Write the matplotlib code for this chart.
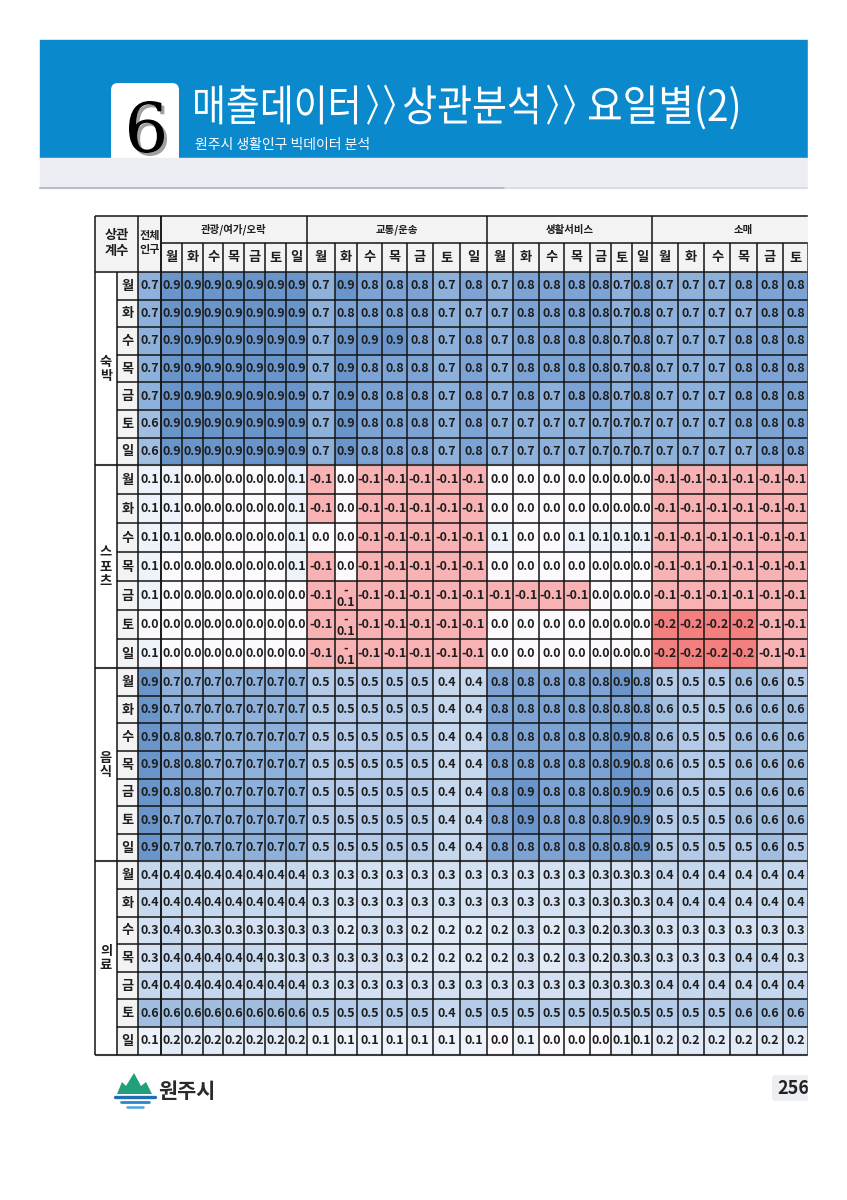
import numpy as np
import matplotlib.pyplot as plt
from matplotlib.colors import LinearSegmentedColormap, Normalize
from matplotlib.patches import Rectangle, FancyBboxPatch, Polygon, PathPatch
from matplotlib.textpath import TextPath
from matplotlib.font_manager import FontProperties
from matplotlib.transforms import Affine2D

plt.rcParams['font.family'] = ['Noto Sans CJK KR', 'DejaVu Sans']

# ---------------- data ----------------
title_parts = ['매출데이터', '〉', '〉', '상관분석', '〉', '〉', '요일별(2)']
subtitle = '원주시 생활인구 빅데이터 분석'
days = ['월', '화', '수', '목', '금', '토', '일']
blocks = ['숙\n박', '스\n포\n츠', '음\n식', '의\n료']
groups = ['관광/여가/오락', '교통/운송', '생활서비스', '소매']
corner_label = '상관\n계수'
total_label = '전체\n인구'
page_no = '256'

# columns: 전체 | 관광 x7 | 교통 x7 | 생활서비스 x7 | 소매 x6 (visible part)
lodging = [
    [0.7, 0.9, 0.9, 0.9, 0.9, 0.9, 0.9, 0.9, 0.7, 0.9, 0.8, 0.8, 0.8, 0.7, 0.8, 0.7, 0.8, 0.8, 0.8, 0.8, 0.7, 0.8, 0.7, 0.7, 0.7, 0.8, 0.8, 0.8],
    [0.7, 0.9, 0.9, 0.9, 0.9, 0.9, 0.9, 0.9, 0.7, 0.8, 0.8, 0.8, 0.8, 0.7, 0.7, 0.7, 0.8, 0.8, 0.8, 0.8, 0.7, 0.8, 0.7, 0.7, 0.7, 0.7, 0.8, 0.8],
    [0.7, 0.9, 0.9, 0.9, 0.9, 0.9, 0.9, 0.9, 0.7, 0.9, 0.9, 0.9, 0.8, 0.7, 0.8, 0.7, 0.8, 0.8, 0.8, 0.8, 0.7, 0.8, 0.7, 0.7, 0.7, 0.8, 0.8, 0.8],
    [0.7, 0.9, 0.9, 0.9, 0.9, 0.9, 0.9, 0.9, 0.7, 0.9, 0.8, 0.8, 0.8, 0.7, 0.8, 0.7, 0.8, 0.8, 0.8, 0.8, 0.7, 0.8, 0.7, 0.7, 0.7, 0.8, 0.8, 0.8],
    [0.7, 0.9, 0.9, 0.9, 0.9, 0.9, 0.9, 0.9, 0.7, 0.9, 0.8, 0.8, 0.8, 0.7, 0.8, 0.7, 0.8, 0.7, 0.8, 0.8, 0.7, 0.8, 0.7, 0.7, 0.7, 0.8, 0.8, 0.8],
    [0.6, 0.9, 0.9, 0.9, 0.9, 0.9, 0.9, 0.9, 0.7, 0.9, 0.8, 0.8, 0.8, 0.7, 0.8, 0.7, 0.7, 0.7, 0.7, 0.7, 0.7, 0.7, 0.7, 0.7, 0.7, 0.8, 0.8, 0.8],
    [0.6, 0.9, 0.9, 0.9, 0.9, 0.9, 0.9, 0.9, 0.7, 0.9, 0.8, 0.8, 0.8, 0.7, 0.8, 0.7, 0.7, 0.7, 0.7, 0.7, 0.7, 0.7, 0.7, 0.7, 0.7, 0.7, 0.8, 0.8],
]
sports = [
    [0.1, 0.1, 0.0, 0.0, 0.0, 0.0, 0.0, 0.1, -0.1, 0.0, -0.1, -0.1, -0.1, -0.1, -0.1, 0.0, 0.0, 0.0, 0.0, 0.0, 0.0, 0.0, -0.1, -0.1, -0.1, -0.1, -0.1, -0.1],
    [0.1, 0.1, 0.0, 0.0, 0.0, 0.0, 0.0, 0.1, -0.1, 0.0, -0.1, -0.1, -0.1, -0.1, -0.1, 0.0, 0.0, 0.0, 0.0, 0.0, 0.0, 0.0, -0.1, -0.1, -0.1, -0.1, -0.1, -0.1],
    [0.1, 0.1, 0.0, 0.0, 0.0, 0.0, 0.0, 0.1, 0.0, 0.0, -0.1, -0.1, -0.1, -0.1, -0.1, 0.1, 0.0, 0.0, 0.1, 0.1, 0.1, 0.1, -0.1, -0.1, -0.1, -0.1, -0.1, -0.1],
    [0.1, 0.0, 0.0, 0.0, 0.0, 0.0, 0.0, 0.1, -0.1, 0.0, -0.1, -0.1, -0.1, -0.1, -0.1, 0.0, 0.0, 0.0, 0.0, 0.0, 0.0, 0.0, -0.1, -0.1, -0.1, -0.1, -0.1, -0.1],
    [0.1, 0.0, 0.0, 0.0, 0.0, 0.0, 0.0, 0.0, -0.1, -0.1, -0.1, -0.1, -0.1, -0.1, -0.1, -0.1, -0.1, -0.1, -0.1, 0.0, 0.0, 0.0, -0.1, -0.1, -0.1, -0.1, -0.1, -0.1],
    [0.0, 0.0, 0.0, 0.0, 0.0, 0.0, 0.0, 0.0, -0.1, -0.1, -0.1, -0.1, -0.1, -0.1, -0.1, 0.0, 0.0, 0.0, 0.0, 0.0, 0.0, 0.0, -0.2, -0.2, -0.2, -0.2, -0.1, -0.1],
    [0.1, 0.0, 0.0, 0.0, 0.0, 0.0, 0.0, 0.0, -0.1, -0.1, -0.1, -0.1, -0.1, -0.1, -0.1, 0.0, 0.0, 0.0, 0.0, 0.0, 0.0, 0.0, -0.2, -0.2, -0.2, -0.2, -0.1, -0.1],
]
food = [
    [0.9, 0.7, 0.7, 0.7, 0.7, 0.7, 0.7, 0.7, 0.5, 0.5, 0.5, 0.5, 0.5, 0.4, 0.4, 0.8, 0.8, 0.8, 0.8, 0.8, 0.9, 0.8, 0.5, 0.5, 0.5, 0.6, 0.6, 0.5],
    [0.9, 0.7, 0.7, 0.7, 0.7, 0.7, 0.7, 0.7, 0.5, 0.5, 0.5, 0.5, 0.5, 0.4, 0.4, 0.8, 0.8, 0.8, 0.8, 0.8, 0.8, 0.8, 0.6, 0.5, 0.5, 0.6, 0.6, 0.6],
    [0.9, 0.8, 0.8, 0.7, 0.7, 0.7, 0.7, 0.7, 0.5, 0.5, 0.5, 0.5, 0.5, 0.4, 0.4, 0.8, 0.8, 0.8, 0.8, 0.8, 0.9, 0.8, 0.6, 0.5, 0.5, 0.6, 0.6, 0.6],
    [0.9, 0.8, 0.8, 0.7, 0.7, 0.7, 0.7, 0.7, 0.5, 0.5, 0.5, 0.5, 0.5, 0.4, 0.4, 0.8, 0.8, 0.8, 0.8, 0.8, 0.9, 0.8, 0.6, 0.5, 0.5, 0.6, 0.6, 0.6],
    [0.9, 0.8, 0.8, 0.7, 0.7, 0.7, 0.7, 0.7, 0.5, 0.5, 0.5, 0.5, 0.5, 0.4, 0.4, 0.8, 0.9, 0.8, 0.8, 0.8, 0.9, 0.9, 0.6, 0.5, 0.5, 0.6, 0.6, 0.6],
    [0.9, 0.7, 0.7, 0.7, 0.7, 0.7, 0.7, 0.7, 0.5, 0.5, 0.5, 0.5, 0.5, 0.4, 0.4, 0.8, 0.9, 0.8, 0.8, 0.8, 0.9, 0.9, 0.5, 0.5, 0.5, 0.6, 0.6, 0.6],
    [0.9, 0.7, 0.7, 0.7, 0.7, 0.7, 0.7, 0.7, 0.5, 0.5, 0.5, 0.5, 0.5, 0.4, 0.4, 0.8, 0.8, 0.8, 0.8, 0.8, 0.8, 0.9, 0.5, 0.5, 0.5, 0.5, 0.6, 0.5],
]
medical = [
    [0.4, 0.4, 0.4, 0.4, 0.4, 0.4, 0.4, 0.4, 0.3, 0.3, 0.3, 0.3, 0.3, 0.3, 0.3, 0.3, 0.3, 0.3, 0.3, 0.3, 0.3, 0.3, 0.4, 0.4, 0.4, 0.4, 0.4, 0.4],
    [0.4, 0.4, 0.4, 0.4, 0.4, 0.4, 0.4, 0.4, 0.3, 0.3, 0.3, 0.3, 0.3, 0.3, 0.3, 0.3, 0.3, 0.3, 0.3, 0.3, 0.3, 0.3, 0.4, 0.4, 0.4, 0.4, 0.4, 0.4],
    [0.3, 0.4, 0.3, 0.3, 0.3, 0.3, 0.3, 0.3, 0.3, 0.2, 0.3, 0.3, 0.2, 0.2, 0.2, 0.2, 0.3, 0.2, 0.3, 0.2, 0.3, 0.3, 0.3, 0.3, 0.3, 0.3, 0.3, 0.3],
    [0.3, 0.4, 0.4, 0.4, 0.4, 0.4, 0.3, 0.3, 0.3, 0.3, 0.3, 0.3, 0.2, 0.2, 0.2, 0.2, 0.3, 0.2, 0.3, 0.2, 0.3, 0.3, 0.3, 0.3, 0.3, 0.4, 0.4, 0.3],
    [0.4, 0.4, 0.4, 0.4, 0.4, 0.4, 0.4, 0.4, 0.3, 0.3, 0.3, 0.3, 0.3, 0.3, 0.3, 0.3, 0.3, 0.3, 0.3, 0.3, 0.3, 0.3, 0.4, 0.4, 0.4, 0.4, 0.4, 0.4],
    [0.6, 0.6, 0.6, 0.6, 0.6, 0.6, 0.6, 0.6, 0.5, 0.5, 0.5, 0.5, 0.5, 0.4, 0.5, 0.5, 0.5, 0.5, 0.5, 0.5, 0.5, 0.5, 0.5, 0.5, 0.5, 0.6, 0.6, 0.6],
    [0.1, 0.2, 0.2, 0.2, 0.2, 0.2, 0.2, 0.2, 0.1, 0.1, 0.1, 0.1, 0.1, 0.1, 0.1, 0.0, 0.1, 0.0, 0.0, 0.0, 0.1, 0.1, 0.2, 0.2, 0.2, 0.2, 0.2, 0.2],
]

# ---------------- layout (pixels) ----------------
W, H = 847, 1200
col_widths = ([23] + [21, 21, 20, 21, 21, 21, 21] + [28, 22, 25, 25, 26, 27, 27]
              + [26, 26, 25, 26, 21, 21, 20] + [26, 26, 26, 27, 26, 25])
group_ncols = [7, 7, 7, 7]          # 소매 has 7 columns, last one is cut off
hidden_width = 26
block_heights = [27.6, 29.0, 27.6, 27.6]
x_left, x_day, x_data = 95, 117, 138
y_head, y_head2, y_data = 216, 243, 272
title_boxes = [(195, 357), (367, 378), (384, 395), (404, 537), (547, 558), (564, 575), (589, 738)]

x_edges = x_data + np.concatenate([[0], np.cumsum(col_widths)])
row_h = np.repeat(block_heights, 7)
y_edges = y_data + np.concatenate([[0], np.cumsum(row_h)])
x_end = x_edges[-1]
y_end = y_edges[-1]

values = np.array(lodging + sports + food + medical)

# excel-like 3 colour scale: red - white - blue
vmin, vmax = -0.2, 1.0
anchors = [(-0.2, '#F3807F'), (-0.1, '#F8B3B4'), (0.0, '#FCFCFF'), (0.4, '#C6D8EE'),
           (0.7, '#8FB1DB'), (0.8, '#7CA3D3'), (0.9, '#6A95CB'), (1.0, '#5A8AC6')]
cmap = LinearSegmentedColormap.from_list(
    'excel3', [((v - vmin) / (vmax - vmin), c) for v, c in anchors])
norm = Normalize(vmin=vmin, vmax=vmax)

fig = plt.figure(figsize=(W / 100, H / 100), dpi=100)
ax = fig.add_axes([0, 0, 1, 1])
ax.set_xlim(0, W)
ax.set_ylim(H, 0)
ax.axis('off')


def fit_text(s, prop, x0, x1, y0=None, y1=None, em=None, baseline=None, **kw):
    # draw text as a path, stretched horizontally into x0..x1
    path = TextPath((0, 0), s, size=1, prop=prop)
    ext = path.get_extents()
    sx = (x1 - x0) / ext.width
    if em is None:
        sy = (y1 - y0) / ext.height
        ty = y0 + ext.y1 * sy
    else:
        sy = em
        ty = baseline
    tr = Affine2D().scale(sx, -sy).translate(x0 - ext.x0 * sx, ty)
    ax.add_patch(PathPatch(path, transform=tr + ax.transData, lw=0, **kw))


# ---------------- page header ----------------
ax.add_patch(Rectangle((40, 40), 768, 118, color='#0A89CD', zorder=1))
ax.add_patch(FancyBboxPatch((111, 83), 68, 90, boxstyle='round,pad=0,rounding_size=7',
                            fc='white', ec='none', zorder=2))
ax.add_patch(Rectangle((40, 158), 768, 30, color='#ECEEF3', zorder=3))
ax.plot([40, 505], [188, 188], color='#A8B6C8', lw=1.2, zorder=4)
ax.plot([505, 808], [188, 188], color='#D6DAE1', lw=1.2, zorder=4)

six_prop = FontProperties(family='DejaVu Serif')
fit_text('6', six_prop, 132, 167, 104, 156, fc='#A0A0A0', zorder=4)
fit_text('6', six_prop, 129, 164, 101, 153, fc='black', zorder=5)

title_prop = FontProperties(family='Noto Sans CJK KR', weight='regular')
for part, (x0, x1) in zip(title_parts, title_boxes):
    fit_text(part, title_prop, x0, x1, em=43, baseline=121, fc='white', zorder=5)
ax.text(195, 145, subtitle, fontsize=10, color='white', va='center', ha='left', zorder=5)

# ---------------- table ----------------
ax.add_patch(Rectangle((x_left, y_head), x_end - x_left + 40, y_data - y_head,
                       color='#F3F3F3', zorder=5))
ax.add_patch(Rectangle((x_day, y_data), x_data - x_day, y_end - y_data,
                       color='#F3F3F3', zorder=5))
ax.pcolormesh(x_edges, y_edges, values, cmap=cmap, norm=norm, zorder=6)

bold = dict(fontweight='bold', color='#1E1E1E', zorder=8)
for i in range(values.shape[0]):
    yc = (y_edges[i] + y_edges[i + 1]) / 2
    for j in range(values.shape[1]):
        v = values[i, j]
        xc = (x_edges[j] + x_edges[j + 1]) / 2
        width = x_edges[j + 1] - x_edges[j]
        if v < 0 and width < 24:
            s = '-\n%.1f' % abs(v)
            ax.text(xc, yc + 1, s, fontsize=9, ha='center', va='center',
                    linespacing=0.95, **bold)
        else:
            ax.text(xc, yc, '%.1f' % v, fontsize=9, ha='center', va='center', **bold)
    ax.text((x_day + x_data) / 2, yc, days[i % 7], fontsize=9.5, ha='center', va='center', **bold)

# block labels
for b, lab in enumerate(blocks):
    top, bot = y_edges[b * 7], y_edges[b * 7 + 7]
    ax.text((x_left + x_day) / 2, (top + bot) / 2, lab, fontsize=9.5, ha='center',
            va='center', linespacing=1.0, **bold)

# header texts
ax.text((x_left + x_data) / 2, (y_head + y_data) / 2 - 1, corner_label, fontsize=9.5,
        ha='center', va='center', linespacing=1.15, **bold)
ax.text((x_edges[0] + x_edges[1]) / 2, (y_head + y_data) / 2 - 1, total_label, fontsize=8,
        ha='center', va='center', linespacing=1.1, **bold)
start = 1
group_bounds = []
for g, n in enumerate(group_ncols):
    x0 = x_edges[start]
    x1 = x_edges[min(start + n, len(x_edges) - 1)]
    if start + n > len(x_edges) - 1:
        x1 = x1 + hidden_width
    group_bounds.append(x0)
    ax.text((x0 + x1) / 2, (y_head + y_head2) / 2, groups[g], fontsize=7.5, ha='center',
            va='center', **bold)
    start += n
for j in range(1, len(x_edges) - 1):
    ax.text((x_edges[j] + x_edges[j + 1]) / 2, (y_head2 + y_data) / 2, days[(j - 1) % 7],
            fontsize=9.5, ha='center', va='center', **bold)
ax.text(x_end + hidden_width / 2, (y_head2 + y_data) / 2, days[6], fontsize=9.5,
        ha='center', va='center', **bold)

# grid lines
line = dict(colors='#141414', lw=1.1, zorder=7)
x_far = x_end + 40
ax.hlines([y_head, y_data], x_left, x_far, **line)
ax.hlines(y_head2, x_edges[1], x_far, **line)
for i in range(1, len(y_edges) - 1):
    if i % 7:
        ax.hlines(y_edges[i], x_day, x_far, **line)
ax.hlines([y_edges[k * 7] for k in range(1, 4)] + [y_end], x_left, x_far,
          colors='#3A3A3A', lw=1.5, zorder=7)
ax.vlines([x_left, x_edges[0], x_edges[1]] + group_bounds, y_head, y_end, **line)
ax.vlines(x_day, y_data, y_end, **line)
inner = [x for x in x_edges[2:] if x not in group_bounds]
ax.vlines(inner, y_head2, y_end, **line)

# ---------------- footer ----------------
ax.add_patch(Polygon([(117, 1094), (122, 1082), (126, 1086), (134, 1073), (141, 1086),
                      (146, 1082), (152, 1094)], closed=True, fc='#1FA07A', ec='none', zorder=5))
ax.plot([115, 155], [1097, 1097], color='#1F6DB3', lw=2.4, solid_capstyle='round', zorder=5)
ax.plot([121, 149], [1102, 1102], color='#2C86C8', lw=2.0, solid_capstyle='round', zorder=5)
ax.plot([127, 143], [1107, 1107], color='#4BA3DA', lw=1.8, solid_capstyle='round', zorder=5)
ax.text(158, 1091, '원주시', fontsize=15, fontweight='bold', color='#2A2A2A',
        ha='left', va='center', zorder=5)

ax.add_patch(FancyBboxPatch((772, 1075), 50, 26, boxstyle='round,pad=0,rounding_size=3',
                            fc='#ECEEF3', ec='none', zorder=5))
ax.text(777, 1088, page_no, fontsize=13, fontweight='bold', color='#222222',
        ha='left', va='center', zorder=6)

# page is cropped at the right
ax.add_patch(Rectangle((808, 0), W - 808, H, color='white', zorder=50))

fig.savefig('out.png', dpi=100)
